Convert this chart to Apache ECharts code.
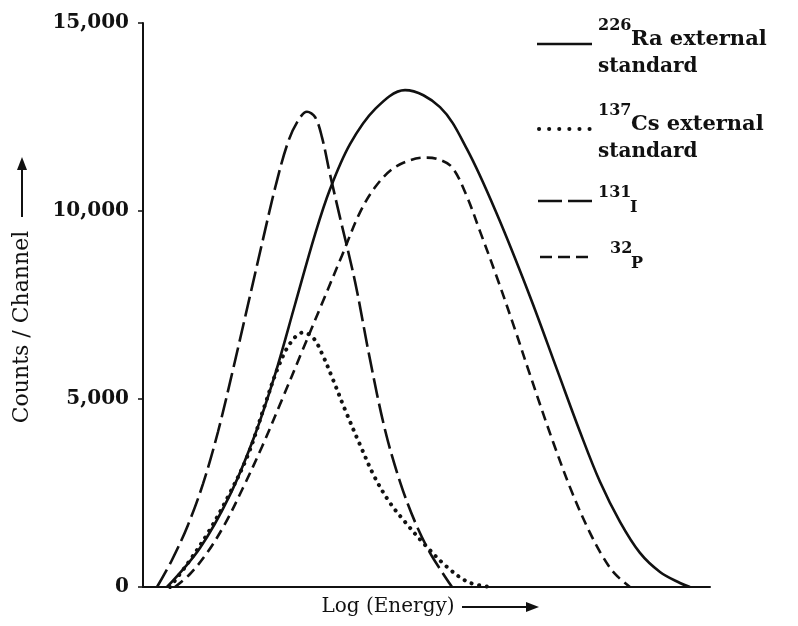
<!DOCTYPE html>
<html>
<head>
<meta charset="utf-8">
<script src="https://cdn.jsdelivr.net/npm/echarts@6/dist/echarts.min.js"></script>
<style>
  html, body { margin: 0; padding: 0; background: #fff; }
  #chart { width: 798px; height: 626px; }
</style>
</head>
<body>
<div id="chart"></div>
<script>
// y 轴刻度
const yTicks = [0, 5000, 10000, 15000]

// 各曲线数据 [log(energy) 相对位置 0-100, counts/channel]
const raPoints = [
  [4.23, 0], [10.05, 1039], [15.34, 2451], [19.75, 4050], [23.28, 5648],
  [26.81, 7513], [30.34, 9378], [32.98, 10577], [36.51, 11776], [40.92, 12709],
  [46.21, 13215], [52.38, 12762], [57.14, 11643], [62.43, 9911], [68.25, 7727],
  [73.02, 5781], [77.07, 4130], [80.6, 2797], [84.13, 1732], [87.65, 906],
  [91.18, 400], [94.71, 107], [96.47, 0],
]
const csPoints = [
  [4.76, 0], [7.94, 639], [11.46, 1439], [14.99, 2398], [18.52, 3517],
  [21.52, 4849], [23.81, 5835], [25.93, 6474], [28.22, 6767], [29.98, 6634],
  [31.57, 6208], [33.51, 5515], [35.63, 4716], [38.27, 3783], [40.92, 2904],
  [43.56, 2238], [46.21, 1732], [49.74, 1119], [53.62, 533], [57.32, 133], [61.2, 0],
]
const iPoints = [
  [2.47, 0], [5.11, 719], [7.94, 1652], [10.58, 2744], [13.23, 4130],
  [15.87, 5782], [18.52, 7513], [21.16, 9245], [23.46, 10710], [25.57, 11829],
  [27.34, 12400], [28.92, 12640], [30.34, 12500], [31.57, 11960], [32.98, 10977],
  [34.74, 9831], [37.39, 8126], [40.04, 6048], [42.68, 4183], [45.33, 2797],
  [47.97, 1732], [50.62, 906], [52.73, 400], [54.5, 0],
]
const pPoints = [
  [5.64, 0], [8.29, 346], [11.29, 906], [14.46, 1678], [17.64, 2638],
  [20.99, 3730], [24.51, 4982], [28.04, 6261], [31.57, 7540], [35.1, 8819],
  [38.27, 9964], [40.92, 10630], [43.92, 11110], [47.09, 11350], [49.74, 11420],
  [52.03, 11376], [54.5, 11163], [56.97, 10444], [59.44, 9458], [62.43, 8232],
  [65.61, 6847], [68.25, 5648], [72.31, 3863], [75.84, 2451], [78.84, 1439],
  [81.13, 799], [83.25, 346], [85.89, 0],
]

const serif = '"DejaVu Serif", "Liberation Serif", serif'
const ink = '#111'

const chart = echarts.init(document.getElementById('chart'))

// 曲线公共样式
const curve = (name, data, type, width, cap) => ({
  name,
  type: 'line',
  data,
  smooth: 0.35,
  showSymbol: false,
  silent: true,
  lineStyle: { color: ink, width, type, cap: cap || 'butt' },
})

const option = {
  animation: false,
  backgroundColor: '#fff',
  grid: { left: 143, right: 88, top: 23, bottom: 39 },
  xAxis: {
    type: 'value',
    min: 0,
    max: 100,
    axisLine: { lineStyle: { color: ink, width: 2 } },
    axisTick: { show: false },
    axisLabel: { show: false },
    splitLine: { show: false },
  },
  yAxis: {
    type: 'value',
    min: yTicks[0],
    max: yTicks[yTicks.length - 1],
    interval: 5000,
    axisLine: { show: true, lineStyle: { color: ink, width: 2 } },
    axisTick: { show: true, length: 5, lineStyle: { color: ink, width: 1.5 } },
    axisLabel: {
      color: ink,
      fontFamily: serif,
      fontWeight: 'bold',
      fontSize: 20,
      margin: 14,
    },
    splitLine: { show: false },
  },
  series: [
    curve('226Ra', raPoints, 'solid', 2.6),
    curve('137Cs', csPoints, [0.1, 7.5], 4, 'round'),
    curve('131I', iPoints, [20, 6], 2.6),
    curve('32P', pPoints, [10, 6], 2.6),
  ],
  graphic: [
    // y 轴标题
    {
      type: 'text', x: 22, y: 327, rotation: Math.PI / 2,
      style: { text: 'Counts / Channel', font: '22px ' + serif, fill: ink, align: 'center', verticalAlign: 'middle' },
    },
    { type: 'line', shape: { x1: 22, y1: 217, x2: 22, y2: 166 }, style: { stroke: ink, lineWidth: 2 } },
    { type: 'polygon', shape: { points: [[22, 157], [17, 170], [27, 170]] }, style: { fill: ink } },
    // x 轴标题
    {
      type: 'text', x: 388, y: 607,
      style: { text: 'Log (Energy)', font: '20px ' + serif, fill: ink, align: 'center', verticalAlign: 'middle' },
    },
    { type: 'line', shape: { x1: 462, y1: 607, x2: 528, y2: 607 }, style: { stroke: ink, lineWidth: 2 } },
    { type: 'polygon', shape: { points: [[539, 607], [526, 602], [526, 612]] }, style: { fill: ink } },

    // 图例
    { type: 'line', shape: { x1: 537, y1: 44, x2: 592, y2: 44 }, style: { stroke: ink, lineWidth: 2.6 } },
    { type: 'text', x: 598, y: 26, style: { text: '226', font: 'bold 16px ' + serif, fill: ink, verticalAlign: 'middle' } },
    { type: 'text', x: 631, y: 40, style: { text: 'Ra external', font: 'bold 21px ' + serif, fill: ink, verticalAlign: 'middle' } },
    { type: 'text', x: 598, y: 67, style: { text: 'standard', font: 'bold 20px ' + serif, fill: ink, verticalAlign: 'middle' } },

    { type: 'line', shape: { x1: 539, y1: 129, x2: 592, y2: 129 }, style: { stroke: ink, lineWidth: 4, lineDash: [0.1, 10], lineCap: 'round' } },
    { type: 'text', x: 598, y: 111, style: { text: '137', font: 'bold 16px ' + serif, fill: ink, verticalAlign: 'middle' } },
    { type: 'text', x: 631, y: 125, style: { text: 'Cs external', font: 'bold 21px ' + serif, fill: ink, verticalAlign: 'middle' } },
    { type: 'text', x: 598, y: 152, style: { text: 'standard', font: 'bold 20px ' + serif, fill: ink, verticalAlign: 'middle' } },

    { type: 'line', shape: { x1: 538, y1: 201, x2: 592, y2: 201 }, style: { stroke: ink, lineWidth: 2.6, lineDash: [24, 6] } },
    { type: 'text', x: 598, y: 193, style: { text: '131', font: 'bold 16px ' + serif, fill: ink, verticalAlign: 'middle' } },
    { type: 'text', x: 630, y: 208, style: { text: 'I', font: 'bold 16px ' + serif, fill: ink, verticalAlign: 'middle' } },

    { type: 'line', shape: { x1: 540, y1: 257, x2: 592, y2: 257 }, style: { stroke: ink, lineWidth: 2.6, lineDash: [12, 6] } },
    { type: 'text', x: 610, y: 249, style: { text: '32', font: 'bold 16px ' + serif, fill: ink, verticalAlign: 'middle' } },
    { type: 'text', x: 631, y: 264, style: { text: 'P', font: 'bold 16px ' + serif, fill: ink, verticalAlign: 'middle' } },
  ],
}

chart.setOption(option)
</script>
</body>
</html>
